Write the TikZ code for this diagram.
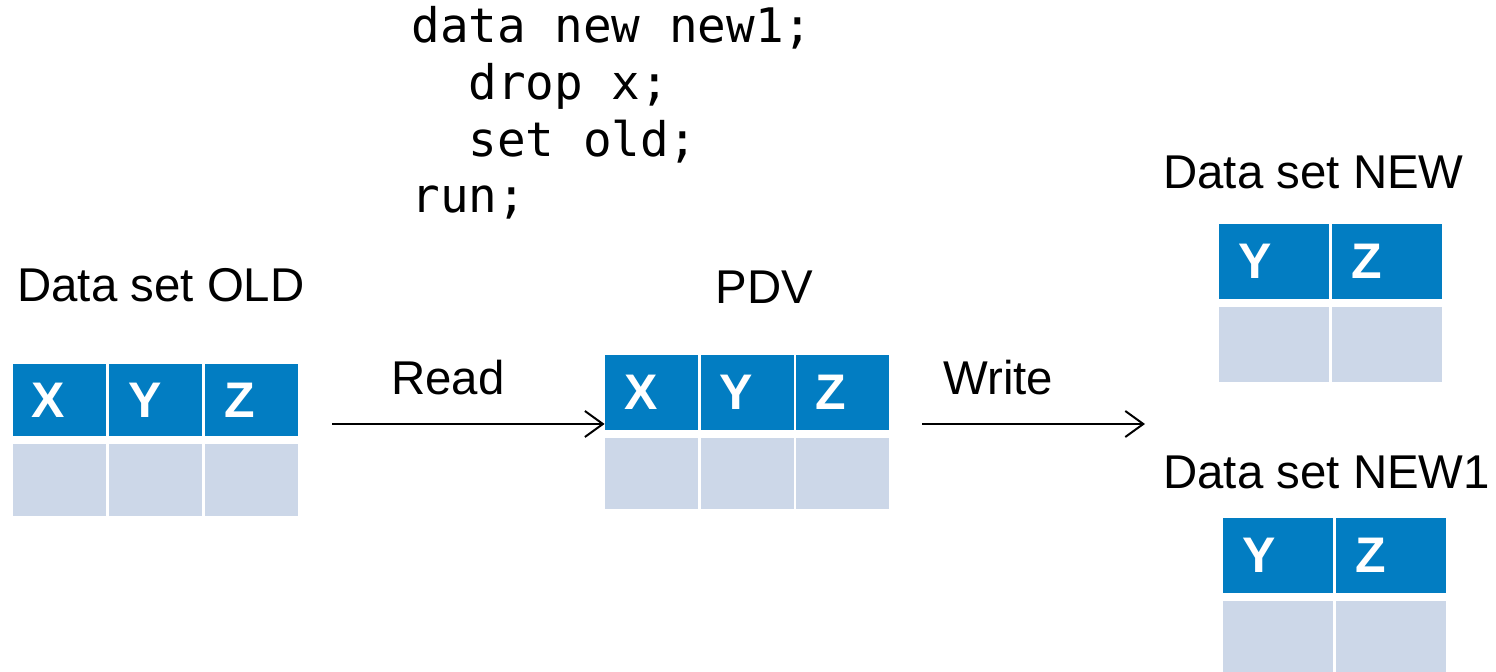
\documentclass[tikz,border=0pt]{standalone}
\usepackage{fontspec}
\setmainfont{Liberation Sans}
\setmonofont{DejaVu Sans Mono}
\usetikzlibrary{arrows.meta}
\definecolor{hdrblue}{RGB}{2,125,194}
\definecolor{rowgray}{RGB}{204,215,232}

\begin{document}
\begin{tikzpicture}[x=0.5pt, y=-0.5pt,
  hdr/.style={fill=hdrblue, text=white, font=\fontsize{25}{25}\selectfont\bfseries,
    minimum height=36pt, inner xsep=9.5pt, inner ysep=0pt, text width=27.5pt, align=left},
  row/.style={fill=rowgray, minimum width=46.5pt, minimum height=36pt, inner sep=0pt},
  lbl/.style={anchor=base west, inner sep=0pt, font=\fontsize{23.7}{23.7}\selectfont},
  code/.style={anchor=base west, inner sep=0pt, font=\ttfamily\fontsize{23.8}{23.8}\selectfont},
  flow/.style={line width=1pt, -{Straight Barb[length=9pt, width=13pt]}}]

  \useasboundingbox (0,0) rectangle (1496,672);

  % Program text
  \node[code] (code1) at (411, 43) {data new new1;};
  \node[code] (code2) at (468,100) {drop x;};
  \node[code] (code3) at (468,157) {set old;};
  \node[code] (code4) at (411,213) {run;};

  % Input data set
  \node[lbl] (oldlbl) at (17,302) {Data set OLD};
  \foreach \v [count=\i] in {X,Y,Z} {
    \node[hdr] (old-h\i) at ({59.5+96*(\i-1)},400) {\v};
    \node[row] (old-r\i) at ({59.5+96*(\i-1)},480) {};
  }

  % Program data vector
  \node[lbl] (pdvlbl) at (715,304) {PDV};
  \foreach \v [count=\i] in {X,Y,Z} {
    \node[hdr, minimum height=37.5pt] (pdv-h\i) at ({651.5+95.5*(\i-1)},392.5) {\v};
    \node[row, minimum height=35.5pt] (pdv-r\i) at ({651.5+95.5*(\i-1)},473.5) {};
  }

  % Output data sets
  \node[lbl] (newlbl) at (1163,189) {Data set NEW};
  \foreach \v [count=\i] in {Y,Z} {
    \node[hdr, text width=36pt, minimum height=37.5pt] (new-h\i) at ({1274+113*(\i-1)},261.5) {\v};
    \node[row, minimum width=55pt, minimum height=37.5pt] (new-r\i) at ({1274+113*(\i-1)},344.5) {};
  }

  \node[lbl] (new1lbl) at (1163,489) {Data set NEW1};
  \foreach \v [count=\i] in {Y,Z} {
    \node[hdr, text width=36pt, minimum height=37.5pt] (new1-h\i) at ({1278+113*(\i-1)},555.5) {\v};
    \node[row, minimum width=55pt, minimum height=37.5pt] (new1-r\i) at ({1278+113*(\i-1)},638.5) {};
  }

  % Read and write steps
  \coordinate (readtail) at (332,424);
  \coordinate (writetail) at (922,424);
  \coordinate (writehead) at (1145,424);
  \draw[flow] (readtail) -- (pdv-h1.west |- readtail);
  \draw[flow] (writetail) -- (writehead);
  \node[lbl] (readlbl) at (391,395) {Read};
  \node[lbl] (writelbl) at (943,395) {Write};

\end{tikzpicture}
\end{document}
